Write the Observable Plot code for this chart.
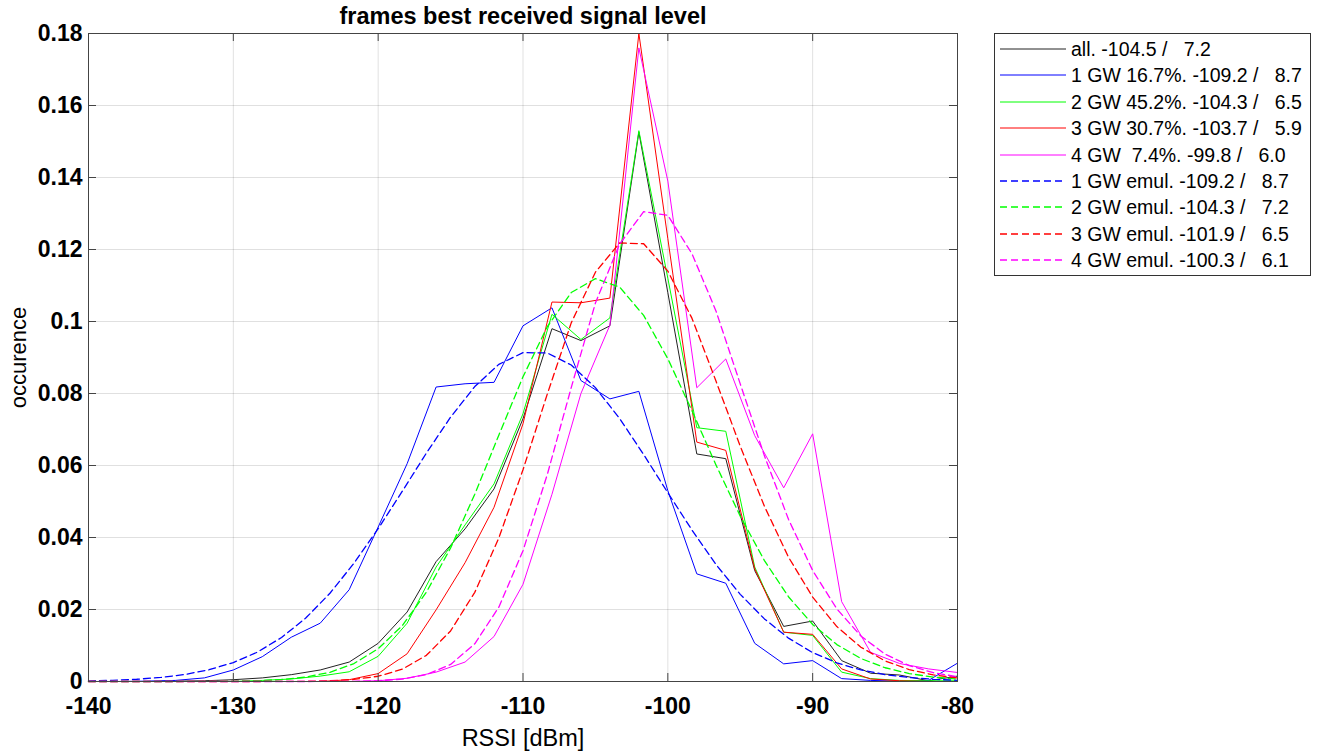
<!DOCTYPE html>
<html><head><meta charset="utf-8">
<script src="https://cdn.jsdelivr.net/npm/d3@7"></script>
<script src="https://cdn.jsdelivr.net/npm/@observablehq/plot@0.6"></script>
<style>
body{margin:0;background:#fff;}
#wrap{position:relative;width:1317px;height:753px;font-family:"Liberation Sans",Arial,sans-serif;}
#legend{position:absolute;left:994px;top:33px;width:317px;height:243px;border:1px solid #333;box-sizing:border-box;background:#fff;}
.row{position:absolute;left:0;height:26px;width:310px;}
.row svg{position:absolute;left:5px;top:0;display:block;}
.row span{position:absolute;left:76px;top:0;line-height:26px;white-space:pre;font-size:19.5px;color:#000;}
</style></head>
<body><div id="wrap"><div id="legend"></div></div>
<script>
// ---- data ----
const rssi = [-140,-138,-136,-134,-132,-130,-128,-126,-124,-122,-120,-118,-116,-114,-112,-110,-108,-106,-104,-102,-100,-98,-96,-94,-92,-90,-88,-86,-84,-82,-80];
const allFrames = [0,0,0,0.0001,0.0002,0.0005,0.001,0.0019,0.0032,0.0054,0.0106,0.0193,0.0333,0.0424,0.0535,0.073,0.098,0.0947,0.0988,0.1526,0.108,0.0632,0.0619,0.0308,0.0153,0.0168,0.0058,0.0023,0.0018,0.0002,0.0015];
const gw1 = [0,0,0.0001,0.0003,0.001,0.0032,0.0069,0.0123,0.0162,0.0255,0.0429,0.0605,0.0818,0.0827,0.0831,0.0988,0.1038,0.0836,0.0785,0.0806,0.053,0.0299,0.0273,0.0106,0.0049,0.0058,0.0008,0.0003,0.0001,0.0003,0.0051];
const gw2 = [0,0,0,0,0,0,0.0003,0.0007,0.0015,0.0027,0.007,0.0162,0.0318,0.0435,0.0549,0.0744,0.102,0.095,0.101,0.153,0.112,0.0705,0.0695,0.0318,0.0137,0.0128,0.0026,0.0008,0.0003,0.0002,0.0002];
const gw3 = [0,0,0,0,0,0,0,0,0,0.0005,0.0022,0.0077,0.0199,0.033,0.0484,0.0716,0.1054,0.1052,0.1065,0.18,0.123,0.0665,0.0642,0.0313,0.0137,0.0131,0.0035,0.0007,0.0002,0,0];
const gw4 = [0,0,0,0,0,0,0,0,0,0,0.0002,0.0009,0.0026,0.0054,0.0125,0.027,0.052,0.08,0.099,0.176,0.139,0.0816,0.0896,0.0683,0.0538,0.0688,0.0222,0.0081,0.005,0.0035,0.0025];

const rssiEmul = [-140,-138.33,-136.67,-135,-133.33,-131.67,-130,-128.33,-126.67,-125,-123.33,-121.67,-120,-118.33,-116.67,-115,-113.33,-111.67,-110,-108.33,-106.67,-105,-103.33,-101.67,-100,-98.33,-96.67,-95,-93.33,-91.67,-90,-88.33,-86.67,-85,-83.33,-81.67,-80];
const emul1 = [0.00017,0.00034,0.00063,0.00113,0.00196,0.00327,0.00526,0.00817,0.01223,0.01763,0.02451,0.03285,0.04244,0.05287,0.06345,0.07343,0.08193,0.08809,0.09134,0.09127,0.08791,0.08163,0.07306,0.06304,0.05244,0.04205,0.03248,0.02421,0.01739,0.01204,0.00803,0.00517,0.0032,0.00192,0.0011,0.00061,0.00033];
const emul2 = [0,0,0,0,0.00001,0.00003,0.00009,0.00023,0.00055,0.00122,0.00256,0.00499,0.0091,0.01553,0.0248,0.03708,0.05201,0.06843,0.08463,0.09851,0.10805,0.1119,0.10957,0.1017,0.08966,0.07519,0.0601,0.04593,0.03359,0.02355,0.01584,0.01025,0.00638,0.00382,0.0022,0.00122,0.00066];
const emul3 = [0,0,0,0,0,0,0.000001,0.000005,0.00002,0.00006,0.0002,0.00057,0.00146,0.00342,0.00727,0.01404,0.02476,0.03987,0.05881,0.07975,0.09962,0.1137,0.1218,0.1216,0.1140,0.10086,0.0834,0.06536,0.04867,0.03455,0.02344,0.01525,0.00952,0.00572,0.0033,0.00184,0.00098];
const emul4 = [0,0,0,0,0,0,0,0,0,0.000003,0.000014,0.00006,0.00021,0.00067,0.00189,0.00473,0.01048,0.02064,0.03633,0.05739,0.08163,0.10514,0.1215,0.1305,0.1295,0.1188,0.10287,0.08267,0.06268,0.04505,0.03083,0.02016,0.01264,0.0076,0.0044,0.00245,0.00131];

const xTicks = [-140,-130,-120,-110,-100,-90,-80];
const xTickLabels = ["-140","-130","-120","-110","-100","-90","-80"];
const yTicks = [0,0.02,0.04,0.06,0.08,0.1,0.12,0.14,0.16,0.18];
const yTickLabels = ["0","0.02","0.04","0.06","0.08","0.1","0.12","0.14","0.16","0.18"];

const seriesNames = ["all. -104.5 /   7.2","1 GW 16.7%. -109.2 /   8.7","2 GW 45.2%. -104.3 /   6.5","3 GW 30.7%. -103.7 /   5.9","4 GW  7.4%. -99.8 /   6.0","1 GW emul. -109.2 /   8.7","2 GW emul. -104.3 /   7.2","3 GW emul. -101.9 /   6.5","4 GW emul. -100.3 /   6.1"];
const seriesColors = ["#222222","#0000ff","#00ff00","#ff0000","#ff00ff","#0000ff","#00ff00","#ff0000","#ff00ff"];
const seriesDashed = [false,false,false,false,false,true,true,true,true];
const seriesX = [rssi,rssi,rssi,rssi,rssi,rssiEmul,rssiEmul,rssiEmul,rssiEmul];
const seriesY = [allFrames,gw1,gw2,gw3,gw4,emul1,emul2,emul3,emul4];

// ---- build ----
const lineMarks = seriesNames.map((name, s) => {
  const rows = seriesX[s].map((x, i) => ({x, y: seriesY[s][i]}));
  return Plot.line(rows, {x: "x", y: "y", stroke: seriesColors[s],
    strokeWidth: seriesDashed[s] ? 1.3 : 1,
    strokeDasharray: seriesDashed[s] ? "7,4" : null});
});

const innerH = 753 - 33 - 72, innerW = 1317 - 88 - 360;
const tickLen = 8;
const axisStroke = "#444";

const chart = Plot.plot({
  width: 1317, height: 753,
  marginLeft: 88, marginRight: 360, marginTop: 33, marginBottom: 72,
  style: {fontFamily: '"Liberation Sans", Arial, sans-serif', background: "#fff", color: "#000", overflow: "visible"},
  x: {domain: [-140, -80]},
  y: {domain: [0, 0.18]},
  marks: [
    Plot.gridX(xTicks, {stroke: "#000", strokeOpacity: 0.12}),
    Plot.gridY(yTicks, {stroke: "#000", strokeOpacity: 0.12}),
    ...lineMarks,
    Plot.frame({stroke: axisStroke}),
    Plot.ruleX(xTicks, {insetTop: innerH - tickLen, stroke: axisStroke}),
    Plot.ruleX(xTicks, {insetBottom: innerH - tickLen, stroke: axisStroke}),
    Plot.ruleY(yTicks, {insetRight: innerW - tickLen, stroke: axisStroke}),
    Plot.ruleY(yTicks, {insetLeft: innerW - tickLen, stroke: axisStroke}),
    Plot.axisX(xTicks, {tickSize: 0, tickPadding: 16, fontSize: 23, fontWeight: "bold", label: null,
      tickFormat: d => xTickLabels[xTicks.indexOf(d)]}),
    Plot.axisY(yTicks, {tickSize: 0, tickPadding: 6, fontSize: 23, fontWeight: "bold", label: null,
      tickFormat: d => yTickLabels[yTicks.indexOf(d)]}),
    Plot.text(["frames best received signal level"], {frameAnchor: "top", lineAnchor: "middle", dy: -17, fontSize: 23.5, fontWeight: "bold", text: d => d}),
    Plot.text(["RSSI [dBm]"], {frameAnchor: "bottom", lineAnchor: "middle", dy: 57, fontSize: 23.5, text: d => d}),
    Plot.text(["occurence"], {frameAnchor: "left", textAnchor: "middle", lineAnchor: "middle", dx: -70, rotate: -90, fontSize: 22, text: d => d})
  ]
});
document.getElementById("wrap").prepend(chart);

// legend
const legend = d3.select("#legend");
seriesNames.forEach((name, s) => {
  const row = legend.append("div").attr("class", "row").style("top", Math.round(2 + 26.4 * s) + "px");
  const svg = row.append("svg").attr("width", 68).attr("height", 26);
  svg.append("line").attr("x1", 0).attr("x2", 66).attr("y1", 13).attr("y2", 13)
    .style("stroke", seriesColors[s]).style("stroke-width", seriesDashed[s] ? 1.3 : 1)
    .style("stroke-dasharray", seriesDashed[s] ? "7,4" : "none");
  row.append("span").text(name);
});
</script>
</body></html>
